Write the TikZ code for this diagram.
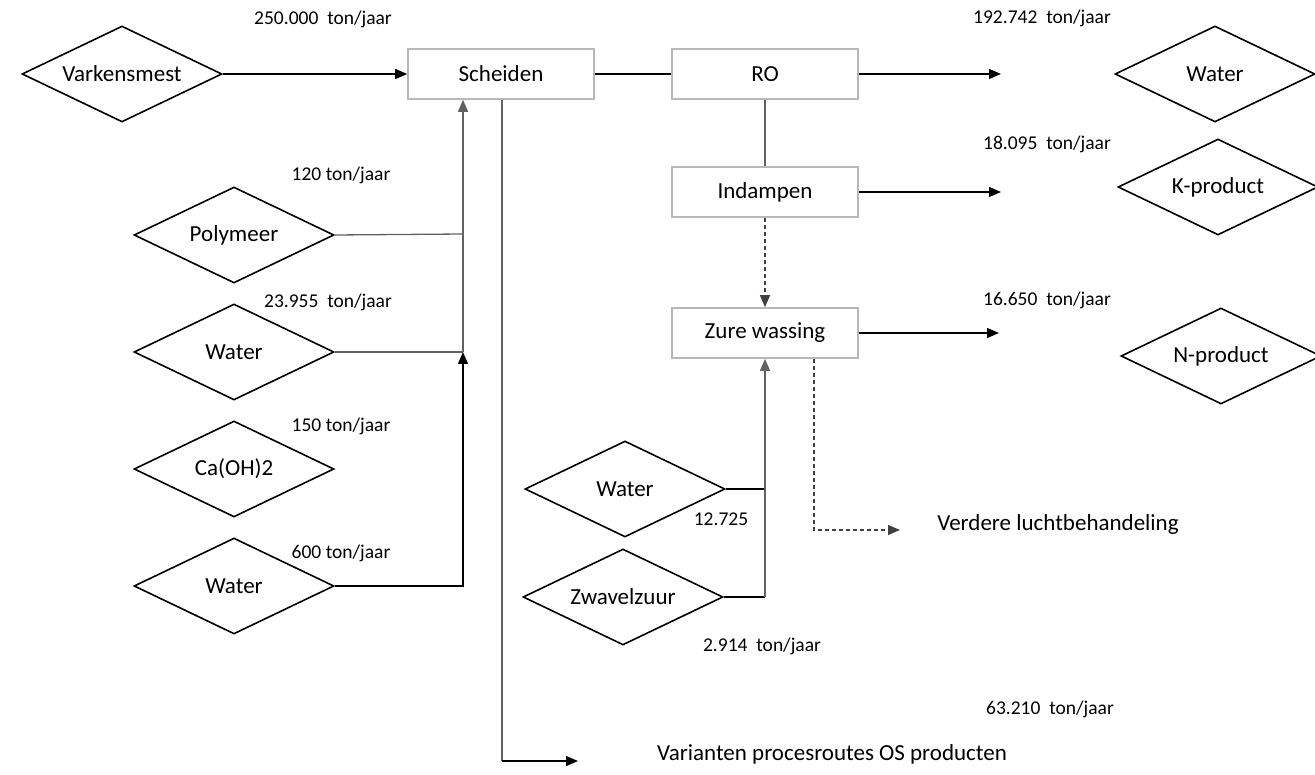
\documentclass[tikz,border=0pt]{standalone}
\usepackage{fontspec}
\setmainfont{Carlito}
\usetikzlibrary{shapes.geometric,arrows.meta}
\begin{document}
\begin{tikzpicture}[x=1pt,y=-1pt,
  every node/.style={inner sep=0pt},
  product/.style={diamond, draw=black, line width=1.6pt, aspect=2.08,
    minimum width=200pt, minimum height=96pt, font=\fontsize{23}{27}\selectfont},
  process/.style={rectangle, draw=black!28, line width=1.6pt,
    minimum width=186pt, minimum height=50pt, font=\fontsize{23}{27}\selectfont},
  amount/.style={anchor=mid, font=\fontsize{19.5}{23}\selectfont},
  note/.style={anchor=mid, font=\fontsize{23}{27}\selectfont},
  flow/.style={line width=1.3pt, draw=black},
  feed/.style={line width=1.3pt, draw=black!62},
  arr/.style={-{Triangle[length=12pt,width=10pt]}},
  gasflow/.style={line width=1.1pt, draw=black!75, dash pattern=on 4pt off 3pt}
]
\useasboundingbox (0,0) rectangle (1315,775);

% process steps
\node[process] (sch) at (501,74) {Scheiden};
\node[process] (ro)  at (765,74) {RO};
\node[process] (ind) at (765,192) {Indampen};
\node[process] (zw)  at (765,333) {Zure wassing};

% inputs and products
\node[product] (vm)   at (122,74)  {Varkensmest};
\node[product] (pol)  at (234,235) {Polymeer};
\node[product] (w1)   at (234,352) {Water};
\node[product] (ca)   at (234,469) {Ca(OH)2};
\node[product] (w2)   at (234,586) {Water};
\node[product] (w3)   at (625,489) {Water};
\node[product] (zz)   at (623,597) {Zwavelzuur};
\node[product] (wout) at (1215,74)  {Water};
\node[product] (kp)   at (1218,187) {K-product};
\node[product] (np)   at (1221,356) {N-product};

% amounts
\node[amount] (a1)  at (323,22)  {250.000\ \ ton/jaar};
\node[amount] (a2)  at (1042,21) {192.742\ \ ton/jaar};
\node[amount] (a3)  at (341,178) {120 ton/jaar};
\node[amount] (a4)  at (1047,147) {18.095\ \ ton/jaar};
\node[amount] (a5)  at (328,305) {23.955\ \ ton/jaar};
\node[amount] (a6)  at (1047,303) {16.650\ \ ton/jaar};
\node[amount] (a7)  at (341,429) {150 ton/jaar};
\node[amount] (a8)  at (341,556) {600 ton/jaar};
\node[amount] (a9)  at (721,523) {12.725};
\node[amount] (a10) at (762,649) {2.914\ \ ton/jaar};
\node[amount] (a11) at (1050,712) {63.210\ \ ton/jaar};

\node[note] (lucht) at (1058,528) {Verdere luchtbehandeling};
\node[note] (os)    at (832,758) {Varianten procesroutes OS producten};

% free ends and junctions
\coordinate (roout)  at (1001,74);
\coordinate (indout) at (1001,192);
\coordinate (zwout)  at (999,333);
\coordinate (jpol)   at (463,234);
\coordinate (jw1)    at (463,352);
\coordinate (jw2)    at (463,586);
\coordinate (jw3)    at (765,489);
\coordinate (jzz)    at (765,597);
\coordinate (osdown) at (502,761);
\coordinate (osend)  at (578,761);
\coordinate (gdown)  at (814,530);
\coordinate (gend)   at (900,530);

% main line
\draw[flow,arr] (vm.east) -- (sch.west);
\draw[flow, line width=1.6pt] (sch.east) -- (ro.west);
\draw[flow,arr] (ro.east) -- (roout);
\draw[feed] (ro.south) -- (ind.north);
\draw[flow,arr] (ind.east) -- (indout);
\draw[gasflow,arr] (ind.south) -- (zw.north);
\draw[flow,arr] (zw.east) -- (zwout);
\draw[gasflow,arr] (zw.south -| gdown) -- (gdown) -- (gend);

% additives to the separation
\draw[feed] (pol.east) -- (jpol);
\draw[feed] (w1.east) -- (jw1);
\draw[flow,arr] (w2.east) -- (jw2) -- (jw1);
\draw[feed,arr] (jw1) -- (jw1 |- sch.south);

% solid fraction
\draw[feed] (sch.south -| osdown) -- (osdown);
\draw[flow,arr] (osdown) -- (osend);

% acid wash inputs
\draw[flow] (w3.east) -- (jw3);
\draw[flow] (zz.east) -- (jzz);
\draw[feed,arr] (jzz) -- (zw.south);
\end{tikzpicture}
\end{document}
